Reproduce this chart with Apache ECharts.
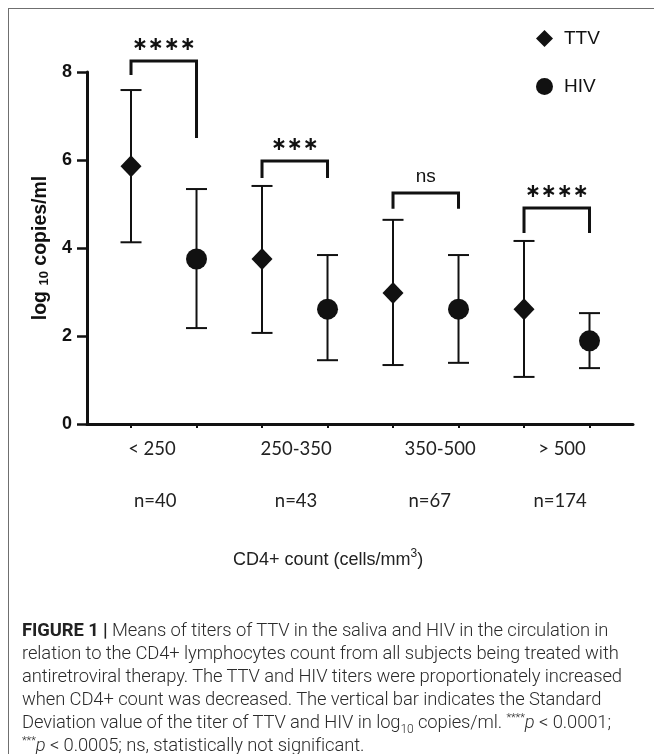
<!DOCTYPE html>
<html>
<head>
<meta charset="utf-8">
<script src="https://cdn.jsdelivr.net/npm/echarts@6/dist/echarts.min.js"></script>
<style>
  html, body { margin: 0; padding: 0; background: #fff; }
  #wrap { position: relative; width: 654px; height: 754px; overflow: hidden; }
  #frame { position: absolute; left: 8px; top: 8px; width: 700px; height: 800px; border: 1.5px solid #6f6f6f; }
  #chart { position: absolute; left: 0; top: 0; width: 654px; height: 754px; }
  #caption {
    position: absolute; left: 22px; top: 618px;
    font-family: Roboto, "Liberation Sans", sans-serif; font-weight: 300;
    font-size: 18.4px; line-height: 23px; color: #2b2b2b; white-space: nowrap;
    letter-spacing: -0.1px;
  }
  #caption b { font-weight: 700; color: #222; }
  #caption sub { font-size: 12px; line-height: 0; }
  #caption sup { font-size: 11px; line-height: 0; }
</style>
</head>
<body>
<div id="wrap">
  <div id="frame"></div>
  <div id="chart"></div>
  <div id="caption">
    <b>FIGURE 1 |</b> Means of titers of TTV in the saliva and HIV in the circulation in<br>
    relation to the CD4+ lymphocytes count from all subjects being treated with<br>
    antiretroviral therapy. The TTV and HIV titers were proportionately increased<br>
    when CD4+ count was decreased. The vertical bar indicates the Standard<br>
    Deviation value of the titer of TTV and HIV in log<sub>10</sub> copies/ml. <sup>****</sup><i>p</i> &lt; 0.0001;<br>
    <sup>***</sup><i>p</i> &lt; 0.0005; ns, statistically not significant.
  </div>
</div>
<script>
// CD4+ groups
const groups = ["< 250", "250-350", "350-500", "> 500"];
const groupN = ["n=40", "n=43", "n=67", "n=174"];

// log10 copies/ml, mean and mean±SD
const ttvMean = [5.86, 3.75, 2.98, 2.61];
const ttvLow  = [4.13, 2.07, 1.34, 1.07];
const ttvHigh = [7.59, 5.41, 4.64, 4.16];
const hivMean = [3.75, 2.61, 2.61, 1.89];
const hivLow  = [2.18, 1.45, 1.39, 1.27];
const hivHigh = [5.34, 3.84, 3.84, 2.52];

// significance brackets (TTV vs HIV per group)
const sigLabels  = ["****", "***", "ns", "****"];
const sigTop     = [8.25, 5.98, 5.25, 4.91];
const sigLeftEnd = [7.93, 5.59, 4.89, 4.34];
const sigRightEnd = [6.50, 5.59, 4.89, 4.34];

const yTicks = [0, 2, 4, 6, 8];

// layout only: label shifts from the TTV position, in x units
const LABEL_SHIFT = [0.32, 0.52, 0.72, 0.58];
const N_SHIFT = [0.37, 0.52, 0.56, 0.55];

const ttvX = groups.map((_, i) => 2 * i);
const hivX = groups.map((_, i) => 2 * i + 1);
const labelPos = ttvX.map((x, i) => x + LABEL_SHIFT[i]);
const nPos = ttvX.map((x, i) => x + N_SHIFT[i]);

const INK = "#111";

function lookup(pos, texts) {
  return v => {
    const i = pos.findIndex(p => Math.abs(p - v) < 1e-6);
    return i < 0 ? "" : texts[i];
  };
}

function errorBar(params, api) {
  const x = api.value(0);
  const lo = api.coord([x, api.value(1)]);
  const hi = api.coord([x, api.value(2)]);
  const h = 10.5;
  const st = { stroke: INK, lineWidth: 2 };
  return {
    type: "group",
    children: [
      { type: "line", shape: { x1: lo[0], y1: lo[1], x2: hi[0], y2: hi[1] }, style: st },
      { type: "line", shape: { x1: hi[0] - h, y1: hi[1], x2: hi[0] + h, y2: hi[1] }, style: st },
      { type: "line", shape: { x1: lo[0] - h, y1: lo[1], x2: lo[0] + h, y2: lo[1] }, style: st },
    ],
  };
}

function bracket(params, api) {
  const x1 = api.value(0), x2 = api.value(1), top = api.value(2);
  const a = api.coord([x1, api.value(3)]);
  const b = api.coord([x1, top]);
  const c = api.coord([x2, top]);
  const d = api.coord([x2, api.value(4)]);
  const label = sigLabels[params.dataIndex];
  const stars = label !== "ns";
  return {
    type: "group",
    children: [
      {
        type: "polyline",
        shape: { points: [a, b, c, d] },
        style: { stroke: INK, lineWidth: 3, fill: null, lineJoin: "miter" },
      },
      {
        type: "text",
        x: (b[0] + c[0]) / 2,
        y: b[1] - 16,
        style: {
          text: stars ? label.replace(/\*/g, "\u2217") : label,
          align: "center",
          verticalAlign: "middle",
          fill: INK,
          font: stars ? "bold 19px 'DejaVu Sans'" : "19px 'Liberation Sans'",
        },
      },
    ],
  };
}

const chart = echarts.init(document.getElementById("chart"));

chart.setOption({
  animation: false,
  grid: { left: 87, top: 72, right: 21, bottom: 330 },
  legend: {
    data: ["TTV", "HIV"],
    orient: "vertical",
    left: 531,
    top: 24,
    itemWidth: 17,
    itemHeight: 17,
    itemGap: 29,
    textStyle: { fontFamily: "Liberation Sans", fontSize: 19, color: INK, padding: [0, 0, 0, 6] },
  },
  xAxis: [
    {
      type: "value",
      min: -0.672,
      max: 7.664,
      splitLine: { show: false },
      axisLine: { onZero: false, lineStyle: { color: INK, width: 3 } },
      axisTick: { customValues: [...ttvX, ...hivX], length: 4, lineStyle: { color: INK, width: 2 } },
      axisLabel: {
        customValues: labelPos,
        formatter: lookup(labelPos, groups),
        margin: 16,
        fontFamily: "Lato",
        fontSize: 18.5,
        color: "#222",
      },
    },
    {
      type: "value",
      position: "bottom",
      offset: 52,
      min: -0.672,
      max: 7.664,
      splitLine: { show: false },
      axisLine: { show: false },
      axisTick: { show: false },
      axisLabel: {
        customValues: nPos,
        formatter: lookup(nPos, groupN),
        margin: 16,
        fontFamily: "Lato",
        fontSize: 18.5,
        color: "#222",
      },
    },
  ],
  yAxis: {
    type: "value",
    min: 0,
    max: 8,
    interval: 2,
    splitLine: { show: false },
    axisLine: { show: true, onZero: false, lineStyle: { color: INK, width: 3 } },
    axisTick: { show: true, length: 10, lineStyle: { color: INK, width: 2.5 } },
    axisLabel: {
      customValues: yTicks,
      margin: 15,
      fontFamily: "Liberation Sans",
      fontWeight: "bold",
      fontSize: 18,
      color: INK,
    },
    name: "{b|log }{s|10}{b| copies/ml}",
    nameLocation: "middle",
    nameGap: 35,
    nameRotate: 90,
    nameTextStyle: {
      rich: {
        b: { fontFamily: "Liberation Sans", fontWeight: "bold", fontSize: 19.5, color: INK },
        s: { fontFamily: "Liberation Sans", fontWeight: "bold", fontSize: 13, color: INK, padding: [7, 0, 0, 0] },
      },
    },
  },
  graphic: [
    {
      type: "text",
      left: 233,
      top: 548,
      style: {
        text: "{t|CD4+ count (cells/mm}{u|3}{t|)}",
        rich: {
          t: { fontFamily: "Liberation Sans", fontSize: 18, fill: "#222" },
          u: { fontFamily: "Liberation Sans", fontSize: 12, fill: "#222", padding: [0, 0, 12, 0] },
        },
      },
    },
  ],
  series: [
    {
      name: "TTV SD",
      type: "custom",
      renderItem: errorBar,
      data: ttvX.map((x, i) => [x, ttvLow[i], ttvHigh[i]]),
      z: 1,
    },
    {
      name: "HIV SD",
      type: "custom",
      renderItem: errorBar,
      data: hivX.map((x, i) => [x, hivLow[i], hivHigh[i]]),
      z: 1,
    },
    {
      name: "TTV",
      type: "scatter",
      symbol: "diamond",
      symbolSize: [21, 22],
      itemStyle: { color: INK, opacity: 1 },
      data: ttvX.map((x, i) => [x, ttvMean[i]]),
      z: 3,
    },
    {
      name: "HIV",
      type: "scatter",
      symbol: "circle",
      symbolSize: 21,
      itemStyle: { color: INK, opacity: 1 },
      data: hivX.map((x, i) => [x, hivMean[i]]),
      z: 3,
    },
    {
      name: "significance",
      type: "custom",
      renderItem: bracket,
      clip: false,
      data: ttvX.map((x, i) => [x, hivX[i], sigTop[i], sigLeftEnd[i], sigRightEnd[i]]),
      z: 2,
    },
  ],
});
</script>
</body>
</html>
